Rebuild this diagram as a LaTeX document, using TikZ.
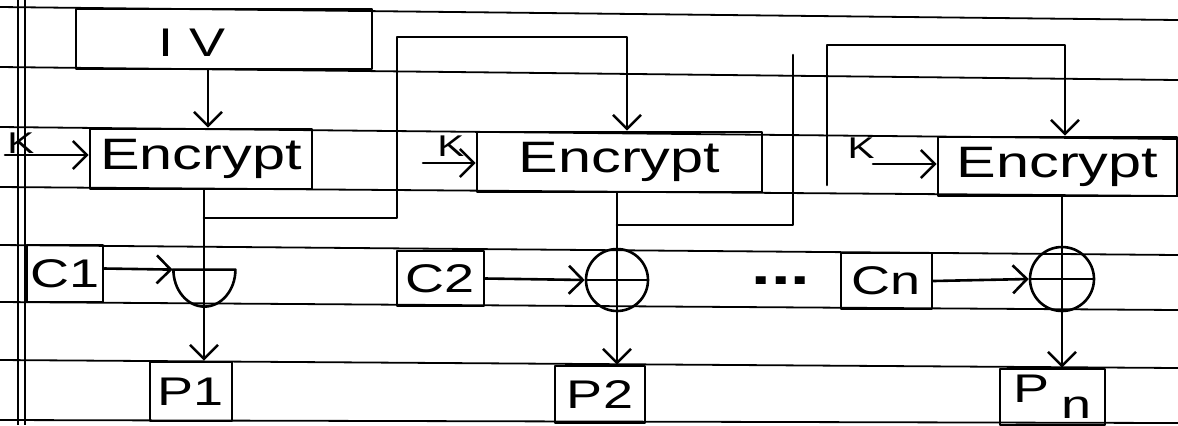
\documentclass[tikz,border=0pt]{standalone}
\usepackage{fontspec}
\newfontfamily\handfont[FakeStretch=1.35]{Liberation Sans}
\usetikzlibrary{arrows.meta}
\begin{document}
\begin{tikzpicture}[x=0.5pt,y=-0.5pt,
  ink/.style={line width=1.3pt, line cap=round, line join=round},
  rule/.style={line width=0.9pt},
  handtext/.style={font=\handfont\fontsize{20}{20}\selectfont, inner sep=0pt},
  box/.style={draw, ink, inner sep=0pt, font=\handfont\fontsize{20}{20}\selectfont},
  encbox/.style={box, font=\handfont\fontsize{22}{22}\selectfont},
  arr/.style={ink, -{Straight Barb[length=7pt,width=14pt,line width=1.3pt]}},
  xorc/.style={circle, draw, ink, minimum size=#1, inner sep=0pt,
    path picture={\draw[ink] (path picture bounding box.north) -- (path picture bounding box.south)
                            (path picture bounding box.west) -- (path picture bounding box.east);}},
  klab/.style={font=\handfont\fontsize{15}{15}\selectfont, inner sep=0pt},
]
\useasboundingbox (0,0) rectangle (1178,425);

% ruled notebook paper
\foreach \a/\b in {7/20, 67/80, 127/139, 187/196, 245/255, 302/310, 360/368, 420/423}
  \draw[rule] (0,\a) -- (1178,\b);
\draw[rule] (18,0) -- (18,425);
\draw[rule] (25,0) -- (25,425);

% initialisation vector and the three cipher stages
\node[box, minimum width=148pt, minimum height=30pt,
      label={[handtext, xshift=-16pt, yshift=-2pt]center:I\kern8pt V}] (iv) at (224,39) {};
\node[encbox, minimum width=111pt, minimum height=30pt] (enc1) at (201,159) {Encrypt};
\node[encbox, minimum width=142.5pt, minimum height=30pt] (enc2) at (619.5,162) {Encrypt};
\node[encbox, minimum width=119.5pt, minimum height=29.5pt] (enc3) at (1057.5,166.5) {Encrypt};

% ciphertext blocks
\node[box, minimum width=38pt, minimum height=28.5pt] (c1) at (65,273.5) {C1};
\node[box, minimum width=43.5pt, minimum height=27.5pt] (c2) at (440.5,278.5) {C2};
\node[box, minimum width=45.5pt, minimum height=28pt] (cn) at (886.5,281) {Cn};
\node[font=\handfont\bfseries\fontsize{26}{26}\selectfont, inner sep=0pt] (dots) at (781,281) {...};

% plaintext blocks
\node[box, minimum width=41pt, minimum height=29.5pt] (p1) at (191,391.5) {P1};
\node[box, minimum width=45pt, minimum height=28.5pt] (p2) at (600,394.5) {P2};
\node[box, minimum width=52.5pt, minimum height=28pt] (pn) at (1052.5,397) {P\kern6pt\raisebox{-0.4em}{n}};

% XOR gates (the first one drawn as a bowl)
\node[minimum width=31pt, minimum height=18.5pt, inner sep=0pt] (xor1) at (204,288.5) {};
\draw[ink] (xor1.north west) -- (xor1.north east)
  arc[start angle=0, end angle=-180, x radius=15.5pt, y radius=18.5pt];
\draw[ink] (xor1.north) -- (xor1.south);
\node[xorc=31pt] (xor2) at (617,280) {};
\node[xorc=32pt] (xor3) at (1062,279) {};

% keys
\node[klab] (k1) at (21,143) {K};
\coordinate (k1s) at (5,155);
\draw[arr] (k1s) -- (k1s -| enc1.west);
\node[klab] (k2) at (451,146) {K};
\coordinate (k2s) at (423,163);
\draw[arr] (k2s) -- (k2s -| enc2.west);
\node[klab] (k3) at (861,148) {K};
\coordinate (k3s) at (873,164);
\draw[arr] (k3s) -- (k3s -| enc3.west);

% IV into the first stage
\draw[arr] ([xshift=-8pt]iv.south) -- ([xshift=3.5pt]enc1.north);

% keystream into the XORs
\draw[ink] (enc1.south -| xor1.north) -- (xor1.north);
\draw[ink] (enc2.south -| xor2.north) -- (xor2.north);
\draw[ink] (enc3.south -| xor3.north) -- (xor3.north);

% feedback of each output to the next stage
\coordinate (fb1) at (204,218);
\coordinate (up1) at (397,37);
\draw[arr] (fb1) -| (up1) -| ([xshift=3.75pt]enc2.north);
\coordinate (fb2) at (617,225);
\coordinate (up2) at (793,55);
\draw[ink] (fb2) -| (up2);
\coordinate (fb3) at (827,185);
\coordinate (up3) at (827,45);
\draw[arr] (fb3) -- (up3) -| ([xshift=3.75pt]enc3.north);

% ciphertext into the XORs
\draw[arr] ([yshift=2.5pt]c1.east) -- (xor1.north west);
\draw[arr] (c2.east) -- (xor2.west);
\draw[arr] (cn.east) -- (xor3.west);

% plaintext out
\draw[arr] (xor1.south) -- (p1.north -| xor1.south);
\draw[arr] (xor2.south) -- (p2.north -| xor2.south);
\draw[arr] (xor3.south) -- (pn.north -| xor3.south);
\end{tikzpicture}
\end{document}
